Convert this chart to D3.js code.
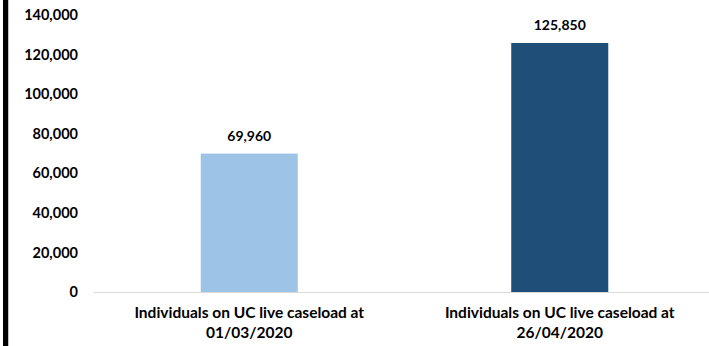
<!DOCTYPE html>
<html>
<head>
<meta charset="utf-8">
<script src="https://cdn.jsdelivr.net/npm/d3@7"></script>
<style>
  html, body { margin: 0; padding: 0; background: #fff; }
  svg { display: block; }
  text { font-family: Lato, "Open Sans", sans-serif; font-weight: bold; fill: #000; }
</style>
</head>
<body>
<script>
// UC live caseload, individuals
const categories = [
  ["Individuals on UC live caseload at", "01/03/2020"],
  ["Individuals on UC live caseload at", "26/04/2020"]
];
const values = [69960, 125850];
const barColors = ["#9dc3e6", "#1f4e79"];
const yTicks = [0, 20000, 40000, 60000, 80000, 100000, 120000, 140000];

const W = 709, H = 346;
const svg = d3.select("body").append("svg").attr("width", W).attr("height", H);

// Dark border strip on the left edge
svg.append("rect").attr("x", 3).attr("y", 0).attr("width", 5).attr("height", H).attr("fill", "#000");
svg.append("rect").attr("x", 8).attr("y", 0).attr("width", 1).attr("height", H).attr("fill", "#bfbfbf");

const x = d3.scaleBand().domain(d3.range(categories.length)).range([94, 715]).paddingInner(0.6875).paddingOuter(0.34375);
const y = d3.scaleLinear().domain([0, 140000]).range([292, 15]);

const fmt = d3.format(",");

// Value axis: labels only
const yAxis = svg.append("g").attr("transform", "translate(78,0)")
  .call(d3.axisLeft(y).tickValues(yTicks).tickFormat(fmt).tickSize(0).tickPadding(0));
yAxis.select(".domain").remove();
yAxis.selectAll("text").style("font-size", "14.5px").style("font-family", "Lato, 'Open Sans', sans-serif").style("font-weight", "bold").attr("fill", "#000");

// Bars
svg.selectAll("rect.bar").data(values).join("rect").attr("class", "bar")
  .attr("x", (d, i) => x(i)).attr("width", x.bandwidth())
  .attr("y", d => y(d)).attr("height", d => y(0) - y(d))
  .attr("fill", (d, i) => barColors[i]);

// Baseline
svg.append("line").attr("x1", 94).attr("x2", W).attr("y1", y(0) + 0.5).attr("y2", y(0) + 0.5)
  .attr("stroke", "#d9d9d9").attr("stroke-width", 1);

// Value labels
svg.selectAll("text.val").data(values).join("text").attr("class", "val")
  .attr("x", (d, i) => x(i) + x.bandwidth() / 2).attr("y", d => y(d) - 13)
  .attr("text-anchor", "middle").style("font-size", "14px").text(d => fmt(d));

// Category labels
const cat = svg.selectAll("text.cat").data(categories).join("text").attr("class", "cat")
  .attr("text-anchor", "middle").style("font-size", "15.5px")
  .attr("transform", (d, i) => `translate(${x(i) + x.bandwidth() / 2},318)`);
cat.selectAll("tspan").data(d => d).join("tspan")
  .attr("x", 0).attr("dy", (d, j) => j === 0 ? 0 : 20).text(d => d);
</script>
</body>
</html>
